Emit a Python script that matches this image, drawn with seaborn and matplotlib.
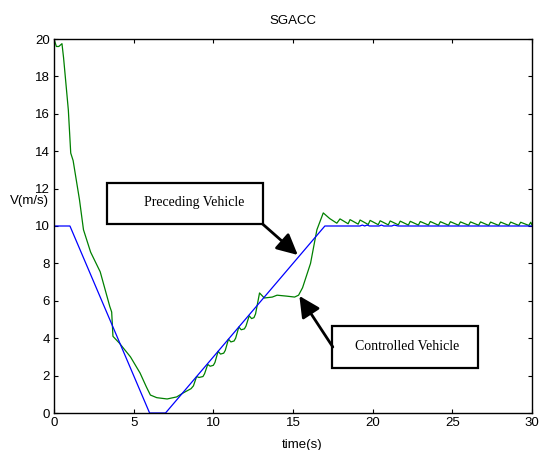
import matplotlib
matplotlib.use("Agg")
import matplotlib.pyplot as plt
from matplotlib.patches import Rectangle
import seaborn as sns
import pandas as pd

# ---- data ----
preceding_t = [0, 1, 6, 7, 17, 19.2, 19.35, 19.5, 19.65, 19.8, 20.4, 20.55, 20.7, 21.2, 21.35, 21.6, 22.0, 30]
preceding_v = [10, 10, 0, 0, 10, 10, 10.05, 10, 10.05, 10, 10, 10.05, 10, 10, 10.05, 10, 10, 10]

controlled_t = [0, 0.15, 0.3, 0.5, 0.6, 0.9, 1.05, 1.2, 1.6, 1.85, 2.3, 2.9, 3.5, 3.62, 3.7, 4.1,
                4.8, 5.4, 5.8, 6.05, 6.45, 7.1, 7.7, 8.1,
                8.6, 8.75, 8.95, 9.1, 9.35, 9.45, 9.65, 9.8, 10.0, 10.1, 10.3, 10.45, 10.65, 10.75,
                10.95, 11.1, 11.3, 11.4, 11.6, 11.75, 11.95, 12.05, 12.25, 12.4, 12.55, 12.65,
                12.9, 13.2, 13.7, 14.0, 14.6, 15.1, 15.35, 15.6, 16.1, 16.5, 16.9, 17.3, 17.75,
                17.95, 18.46, 18.58, 19.09, 19.21, 19.72, 19.84, 20.35, 20.47, 20.98, 21.1, 21.61,
                21.73, 22.24, 22.36, 22.87, 22.99, 23.5, 23.62, 24.13, 24.25, 24.76, 24.88, 25.39,
                25.51, 26.02, 26.14, 26.65, 26.77, 27.28, 27.4, 27.91, 28.03, 28.54, 28.66, 29.17,
                29.29, 29.8, 29.92, 30]
controlled_v = [20, 19.6, 19.6, 19.75, 19.0, 16.2, 13.9, 13.5, 11.4, 9.8, 8.6, 7.55, 5.7, 5.4, 4.1, 3.74,
                3.0, 2.14, 1.39, 0.96, 0.82, 0.75, 0.86, 1.07,
                1.3, 1.45, 1.95, 1.9, 1.95, 2.1, 2.6, 2.5, 2.55, 2.7, 3.3, 3.15, 3.2, 3.35,
                3.95, 3.8, 3.85, 4.0, 4.6, 4.45, 4.5, 4.65, 5.2, 5.05, 5.1, 5.3,
                6.42, 6.15, 6.2, 6.3, 6.25, 6.2, 6.3, 6.7, 8.0, 9.8, 10.7, 10.4, 10.15,
                10.38, 10.12, 10.34, 10.1, 10.32, 10.08, 10.3, 10.07, 10.28, 10.06, 10.27, 10.06,
                10.26, 10.05, 10.25, 10.05, 10.24, 10.05, 10.24, 10.04, 10.23, 10.04, 10.23, 10.04,
                10.22, 10.04, 10.22, 10.04, 10.22, 10.03, 10.21, 10.03, 10.21, 10.03, 10.21, 10.03,
                10.2, 10.03, 10.2, 10.05]

x_ticks = [0, 5, 10, 15, 20, 25, 30]
y_ticks = [0, 2, 4, 6, 8, 10, 12, 14, 16, 18, 20]

df = pd.concat([
    pd.DataFrame({"t": preceding_t, "v": preceding_v, "s": "Preceding Vehicle"}),
    pd.DataFrame({"t": controlled_t, "v": controlled_v, "s": "Controlled Vehicle"}),
], ignore_index=True)

sns.set_style("ticks")
plt.rcParams["font.family"] = ["Liberation Sans", "DejaVu Sans"]
plt.rcParams["text.color"] = "black"
plt.rcParams["axes.labelcolor"] = "black"

fig = plt.figure(figsize=(5.39, 4.5), dpi=100)
ax = fig.add_axes([54 / 539, 1 - 413 / 450, 478 / 539, 374 / 450])

sns.lineplot(data=df, x="t", y="v", hue="s", sort=False, estimator=None,
             palette={"Preceding Vehicle": "#0000ff", "Controlled Vehicle": "#008000"},
             hue_order=["Controlled Vehicle", "Preceding Vehicle"],
             linewidth=0.9, legend=False, ax=ax)

ax.set_xlim(0, 30)
ax.set_ylim(0, 20)
ax.set_xticks(x_ticks)
ax.set_yticks(y_ticks)
ax.tick_params(direction="in", length=3, width=0.8, top=True, right=True,
               labelsize=9.5, pad=3, colors="black", labelcolor="black")
for s in ax.spines.values():
    s.set_visible(True)
    s.set_linewidth(1.0)
    s.set_color("black")

ax.set_xlabel("time(s)", fontsize=9.5, va="center", color="black")
ax.xaxis.set_label_coords(0.519, -0.086)
ax.set_ylabel("V(m/s)", fontsize=9.5, rotation=0, ha="center", va="center", color="black")
ax.yaxis.set_label_coords(-0.052, 0.567)
ax.text(0.5, 1.048, "SGACC", transform=ax.transAxes, ha="center", va="center",
        fontsize=9.5, color="black")

serif = ["Liberation Serif", "DejaVu Serif"]
# annotation boxes
ax.add_patch(Rectangle((3.33, 10.1), 13.1 - 3.33, 12.3 - 10.1, facecolor="white",
                       edgecolor="black", linewidth=1.6, zorder=5, clip_on=False))
ax.text(8.79, 11.23, "Preceding Vehicle", family=serif, fontsize=10, ha="center", va="center",
        zorder=6, color="black")
ax.add_patch(Rectangle((17.45, 2.4), 26.6 - 17.45, 4.65 - 2.4, facecolor="white",
                       edgecolor="black", linewidth=1.6, zorder=5, clip_on=False))
ax.text(22.16, 3.58, "Controlled Vehicle", family=serif, fontsize=10, ha="center", va="center",
        zorder=6, color="black")

arrow = dict(arrowstyle="-|>,head_length=0.9,head_width=0.45", color="black", lw=2.0,
             shrinkA=0, shrinkB=0, mutation_scale=14)
ax.annotate("", xy=(15.3, 8.45), xytext=(13.1, 10.1), arrowprops=arrow, zorder=7)
ax.annotate("", xy=(15.4, 6.26), xytext=(17.5, 3.53), arrowprops=arrow, zorder=7)

fig.savefig("out.png", dpi=100)
